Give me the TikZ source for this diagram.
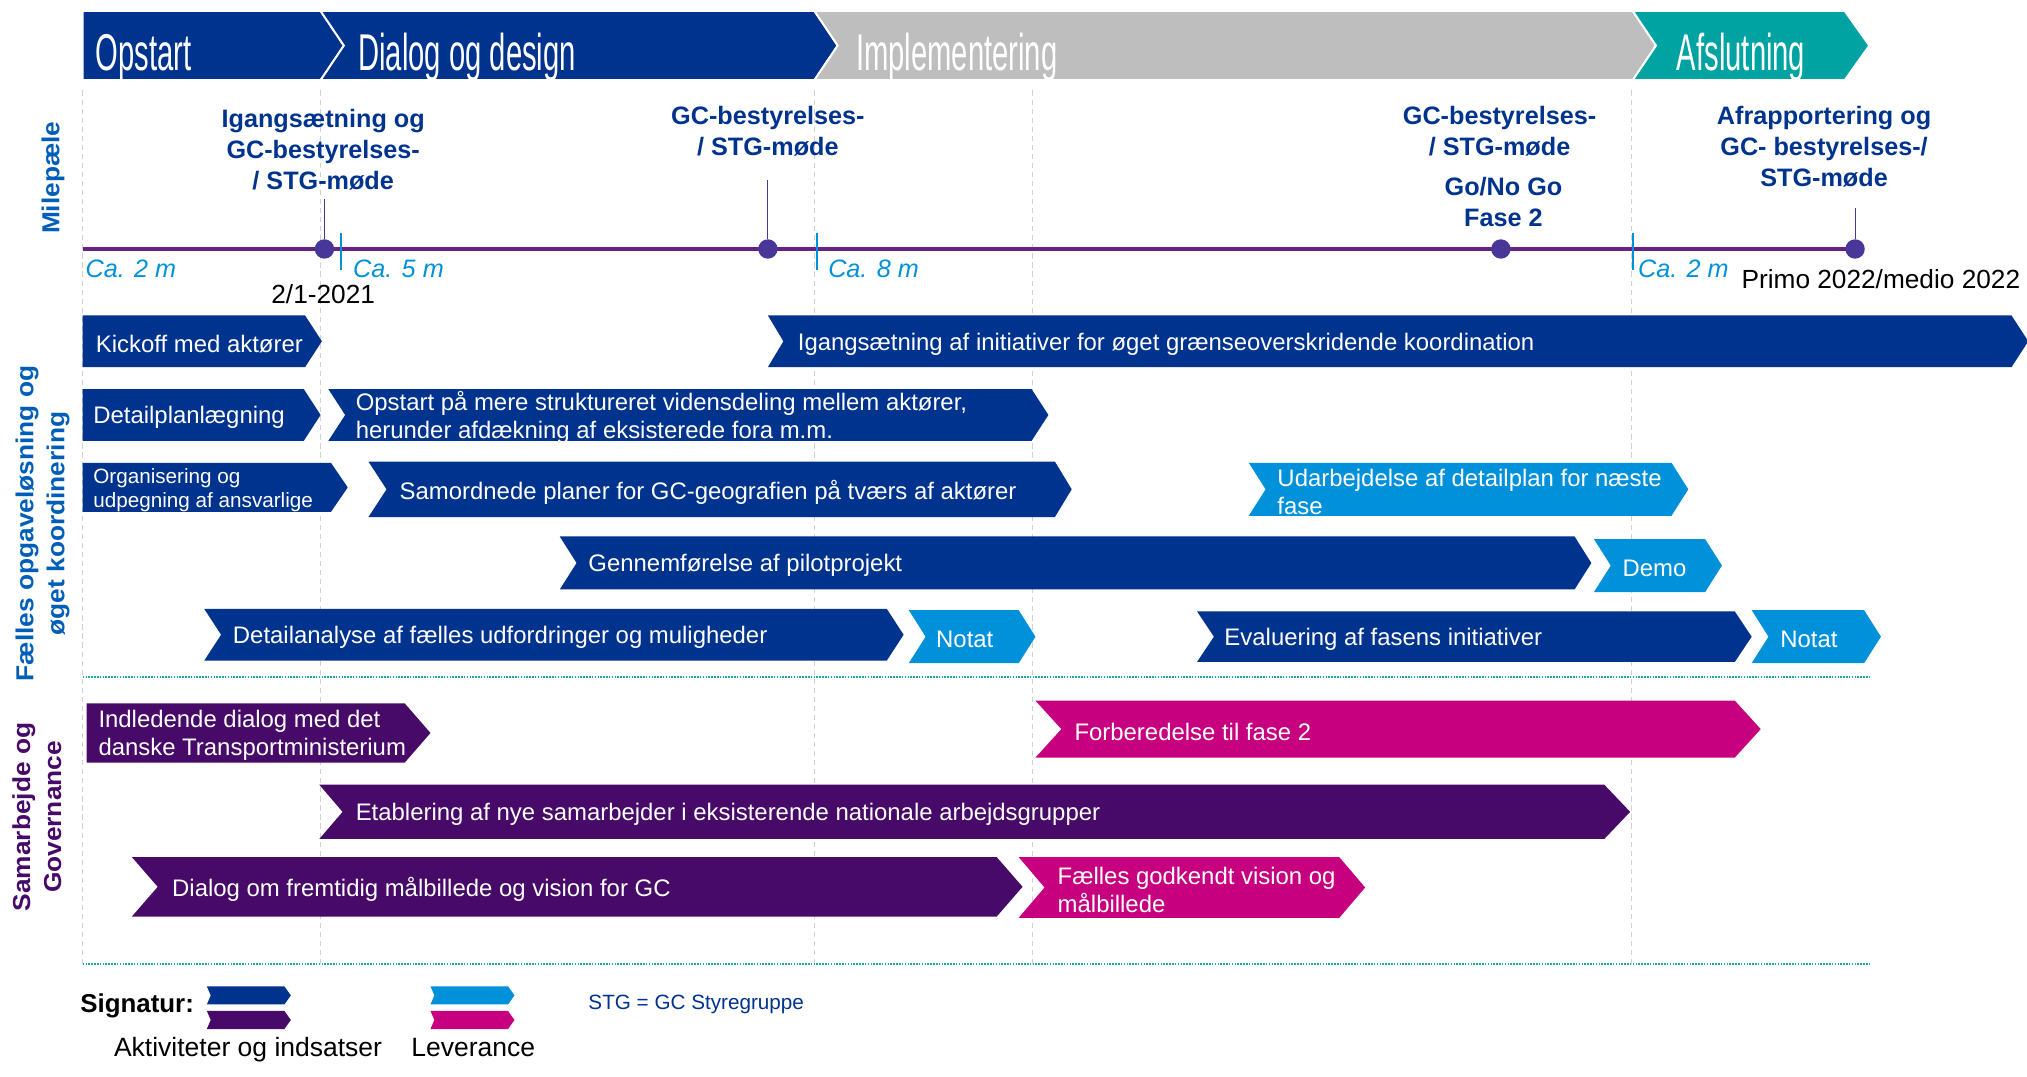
\documentclass[tikz,border=0pt]{standalone}
\usepackage{fontspec}
\setmainfont{Liberation Sans}
\newfontfamily\headfont[FakeStretch=0.565]{Liberation Sans}
\newfontfamily\widefont[FakeStretch=1.07]{Liberation Sans}

\begin{document}
\begin{tikzpicture}[x=1pt,y=-1pt,
    bartext/.style={anchor=west,inner sep=0pt,text=white,align=left,yshift=-2pt,
      font=\fontsize{18.5}{21.5}\selectfont},
    actbar/.style={fill=actblue},
    delbar/.style={fill=delblue},
    govbar/.style={fill=govpurple},
    govdelbar/.style={fill=govpink},
    phasebar/.style={draw=white,line width=1.5pt},
    phasetext/.style={anchor=base west,inner sep=0pt,text=white,
      font=\headfont\fontsize{40}{40}\selectfont},
    miletext/.style={anchor=north,inner sep=0pt,align=center,text=actblue,
      font=\bfseries\fontsize{19.5}{24}\selectfont},
    catext/.style={anchor=base west,inner sep=0pt,text=delblue,
      font=\itshape\fontsize{19.5}{20}\selectfont},
    datetext/.style={inner sep=0pt,font=\fontsize{20.3}{20}\selectfont},
    legendtext/.style={anchor=base west,inner sep=0pt,font=\fontsize{20.5}{20}\selectfont},
    milestone/.style={circle,fill=dotviolet,inner sep=0pt,minimum size=15pt},
    stem/.style={draw=dotviolet,line width=0.8pt},
    timeline/.style={draw=lineviolet,line width=2.6pt},
    phasetick/.style={draw=delblue,line width=1.5pt},
    sidelabel/.style={rotate=90,align=center,inner sep=0pt,
      font=\widefont\bfseries\fontsize{19}{24}\selectfont},
    gridline/.style={draw=black!18,dash pattern=on 4pt off 3pt,line width=0.8pt},
    sepline/.style={draw=septeal,dash pattern=on 1.2pt off 1pt,line width=1.5pt}
  ]

    \definecolor{actblue}{HTML}{00338D}
    \definecolor{delblue}{HTML}{0091DA}
    \definecolor{govpurple}{HTML}{470A68}
    \definecolor{govpink}{HTML}{C6007E}
    \definecolor{phasegrey}{HTML}{BEBEBE}
    \definecolor{phaseteal}{HTML}{00A3A1}
    \definecolor{septeal}{HTML}{1FAAA8}
    \definecolor{medblue}{HTML}{005EB8}
    \definecolor{dotviolet}{HTML}{483698}
    \definecolor{lineviolet}{HTML}{652482}

    \useasboundingbox (0,0) rectangle (1568,833);

    % chevron bar: name, style, left x, right x, top y, bottom y, notch, text x, text
    \def\chev#1#2#3#4#5#6#7#8#9{%
      \fill[#2] (#3,#5) -- (#4,#5) -- ({#4+\tiplen},{(#5+#6)/2}) -- (#4,#6)
        -- (#3,#6) -- ({#3+#7},{(#5+#6)/2}) -- cycle;
      \node[bartext,#2,fill=none] (#1) at (#8,{(#5+#6)/2}) {#9};
    }

    % Background grid and section lines
    \foreach \x in {64,248,630,799,1262}
      \draw[gridline] (\x,70) -- (\x,746);
    \foreach \y in {523.5,746}
      \draw[sepline] (64,\y) -- (1447,\y);

    % Phase header
    \filldraw[phasebar,fill=actblue] (64,8.5) -- (248,8.5) -- (266,35.25) -- (248,62) -- (64,62) -- cycle;
    \filldraw[phasebar,fill=actblue] (248,8.5) -- (630,8.5) -- (648,35.25) -- (630,62) -- (248,62) -- (266,35.25) -- cycle;
    \filldraw[phasebar,fill=phasegrey] (630,8.5) -- (1263,8.5) -- (1281,35.25) -- (1263,62) -- (630,62) -- (648,35.25) -- cycle;
    \filldraw[phasebar,fill=phaseteal] (1263,8.5) -- (1427,8.5) -- (1446,35.25) -- (1427,62) -- (1263,62) -- (1281,35.25) -- cycle;
    \node[phasetext] (opstart) at (74,54.7) {Opstart};
    \node[phasetext] (dialog) at (277,54.7) {Dialog og design};
    \node[phasetext] (impl) at (662,54.7) {Implementering};
    \node[phasetext] (afslut) at (1297,54.7) {Afslutning};

    % Side labels
    \node[sidelabel,text=medblue] (lblmile) at (41,137.5) {Milepæle};
    \node[sidelabel,text=medblue] (lblfaelles) at (33,405) {Fælles opgaveløsning og\\øget koordinering};
    \node[sidelabel,text=govpurple] (lblgov) at (28.5,632) {Samarbejde og\\Governance};

    % Milestones
    \coordinate (tlstart) at (64,192.6);
    \coordinate (tlend) at (1435,192.6);
    \draw[timeline] (tlstart) -- (tlend);
    \foreach \x in {264,632,1263}
      \draw[phasetick] (\x,180) -- (\x,209);
    \node[milestone] (m1) at (251,192.6) {};
    \node[milestone] (m2) at (594,192.6) {};
    \node[milestone] (m3) at (1161,192.6) {};
    \node[milestone] (m4) at (1435,192.6) {};
    \coordinate (m1top) at (251,154);
    \coordinate (m2top) at (594,139);
    \coordinate (m4top) at (1435,161);
    \draw[stem] (m1) -- (m1top);
    \draw[stem] (m2) -- (m2top);
    \draw[stem] (m4) -- (m4top);

    \node[miletext] (m1txt) at (250,84.5) {Igangsætning og\\GC-bestyrelses-\\/ STG-møde};
    \node[miletext] (m2txt) at (594,82) {GC-bestyrelses-\\/ STG-møde};
    \node[miletext] (m3txt) at (1160,82) {GC-bestyrelses-\\/ STG-møde};
    \node[miletext] (m3go) at (1163,137) {Go/No Go\\Fase 2};
    \node[miletext] (m4txt) at (1411,82) {Afrapportering og\\GC- bestyrelses-/\\STG-møde};

    \node[catext] (ca1) at (66,214.5) {Ca. 2 m};
    \node[catext] (ca2) at (273,214.5) {Ca. 5 m};
    \node[catext] (ca3) at (640.5,214.5) {Ca. 8 m};
    \node[catext] (ca4) at (1267,214.5) {Ca. 2 m};
    \node[datetext,anchor=base] (date1) at (250,234.5) {2/1-2021};
    \node[datetext,anchor=base west] (date2) at (1347,223) {Primo 2022/medio 2022};

    % Fælles opgaveløsning
    \def\tiplen{13}
    \chev{kickoff}{actbar}{64}{236}{244}{284}{0}{74}{Kickoff med aktører}
    \chev{igang}{actbar}{594}{1556}{244}{284}{12}{617}{Igangsætning af initiativer for øget grænseoverskridende koordination}
    \chev{detailpl}{actbar}{64}{235}{301}{341}{0}{72}{Detailplanlægning}
    \chev{videns}{actbar}{254}{798}{301}{341}{13}{275}{Opstart på mere struktureret vidensdeling mellem aktører,\\herunder afdækning af eksisterede fora m.m.}
    \chev{organ}{actbar,font=\fontsize{16}{19}\selectfont}{64}{256}{358}{396}{0}{72}{Organisering og\\udpegning af ansvarlige}
    \chev{samordn}{actbar}{285}{816}{357}{400}{14}{309}{Samordnede planer for GC-geografien på tværs af aktører}
    \chev{udarb}{delbar}{966}{1293}{358}{399}{13}{988}{Udarbejdelse af detailplan for næste\\fase}
    \chev{pilot}{actbar}{433}{1218}{415}{456}{13}{455}{Gennemførelse af pilotprojekt}
    \chev{demo}{delbar}{1233}{1319}{417}{458}{13}{1255}{Demo}
    \chev{analyse}{actbar}{158}{686}{471}{511}{13}{180}{Detailanalyse af fælles udfordringer og muligheder}
    \chev{notat1}{delbar}{703}{788}{472}{513}{13}{724}{Notat}
    \chev{evalu}{actbar}{926}{1342}{473}{512}{13}{947}{Evaluering af fasens initiativer}
    \chev{notat2}{delbar}{1355}{1442}{472}{513}{13}{1377}{Notat}

    % Samarbejde og governance
    \def\tiplen{20}
    \chev{indled}{govbar}{67}{313}{544}{590}{0}{76}{Indledende dialog med det\\danske Transportministerium}
    \chev{forbered}{govdelbar}{801}{1342}{542}{586}{20}{831}{Forberedelse til fase 2}
    \chev{etabl}{govbar}{247}{1241}{607}{649}{18}{275}{Etablering af nye samarbejder i eksisterende nationale arbejdsgrupper}
    \chev{dialogvis}{govbar}{102}{771}{663}{709}{20}{133}{Dialog om fremtidig målbillede og vision for GC}
    \chev{faelles}{govdelbar}{788}{1036}{663}{710}{20}{818}{Fælles godkendt vision og\\målbillede}

    % Signatur
    \def\tiplen{5}
    \chev{legact}{actbar}{160}{220}{763}{777}{3}{160}{}
    \chev{leggov}{govbar}{160}{220}{782}{796}{3}{160}{}
    \chev{legdel}{delbar}{333}{393}{763}{777}{3}{333}{}
    \chev{leggovdel}{govdelbar}{333}{393}{782}{796}{3}{333}{}
    \node[legendtext,font=\bfseries\fontsize{20}{20}\selectfont] (signatur) at (62,783) {Signatur:};
    \node[legendtext] (legacttxt) at (88,817) {Aktiviteter og indsatser};
    \node[legendtext] (legdeltxt) at (318,817) {Leverance};
    \node[legendtext,text=actblue,font=\fontsize{16}{16}\selectfont] (stg) at (455,781) {STG = GC Styregruppe};

\end{tikzpicture}
\end{document}
